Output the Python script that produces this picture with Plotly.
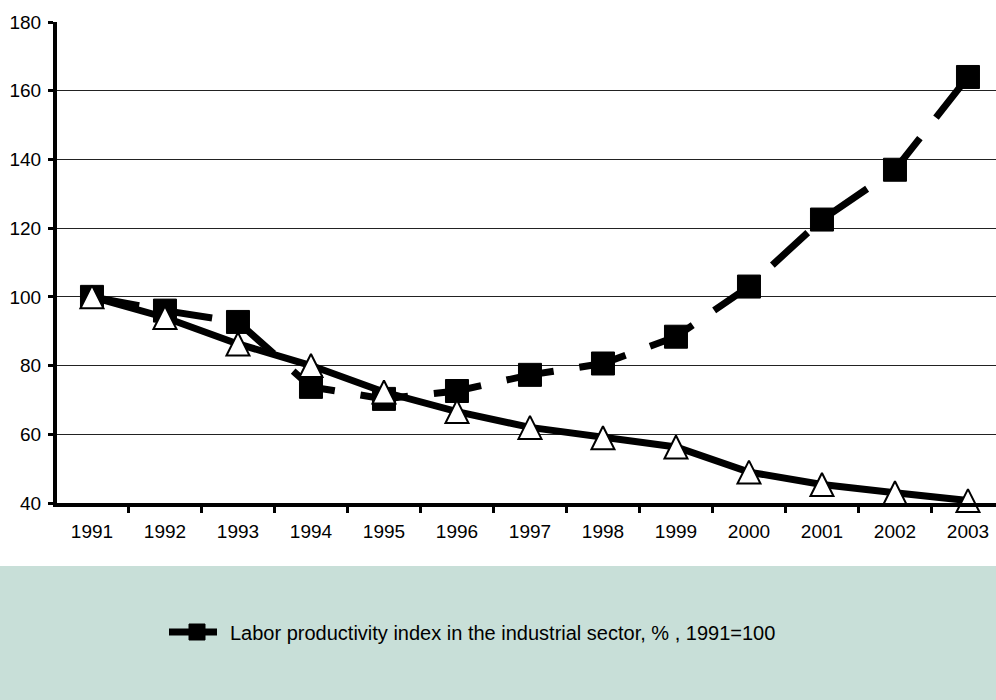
import plotly.graph_objects as go

# Years on the category axis
years = ["1991", "1992", "1993", "1994", "1995", "1996", "1997",
         "1998", "1999", "2000", "2001", "2002", "2003"]

# Labor productivity index in the industrial sector (1991 = 100)
productivity = [100, 96, 92.7, 73.8, 70.3, 72.6, 77.3, 80.6, 88.4, 103.0, 122.5, 137.0, 164.0]

# Second index plotted alongside (not listed in the legend)
second_index = [100, 94, 86.3, 80, 72.3, 66.6, 62.0, 59.0, 56.3, 49.0, 45.4, 43.0, 40.7]

y_ticks = [40, 60, 80, 100, 120, 140, 160, 180]

FONT = "Liberation Sans, Arial, sans-serif"
PLOT_L, PLOT_T, PLOT_B = 57, 22, 197
W, H = 996, 700
plot_w = W - PLOT_L
plot_h = H - PLOT_T - PLOT_B

TRI = 23  # triangle marker size (px)

fig = go.Figure()

fig.add_trace(go.Scatter(
    x=years, y=productivity,
    name="Labor productivity index in the industrial sector, % , 1991=100",
    mode="lines+markers",
    line=dict(color="black", width=7, dash="48px,26px"),
    marker=dict(symbol="square", size=23, color="black",
                line=dict(color="black", width=1)),
    cliponaxis=False,
))

# Upward triangle, centred on the point: a flipped arrow shifted up by half its height
fig.add_trace(go.Scatter(
    x=years, y=second_index,
    name="Series 2",
    mode="lines+markers",
    line=dict(color="black", width=7, backoff=0),
    marker=dict(symbol="arrow-down", angle=180, standoff=TRI / 2, size=TRI,
                color="white", line=dict(color="black", width=2)),
    showlegend=False,
    cliponaxis=False,
))

# Legend band along the bottom of the figure
band_top = (H - PLOT_B - 566) / plot_h
band_bot = (H - PLOT_B - H) / plot_h
fig.add_shape(type="rect", xref="paper", yref="paper",
              x0=-PLOT_L / plot_w, x1=1.0, y0=band_bot, y1=band_top,
              fillcolor="#C8DFD8", line=dict(width=0), layer="below")

legend_y = (H - PLOT_B - 632) / plot_h
legend_x = (164 - PLOT_L) / plot_w

fig.update_layout(
    width=W, height=H,
    margin=dict(l=PLOT_L, r=0, t=PLOT_T, b=PLOT_B),
    paper_bgcolor="white",
    plot_bgcolor="white",
    font=dict(family=FONT, size=19, color="black"),
    showlegend=True,
    legend=dict(
        x=legend_x, y=legend_y, xanchor="left", yanchor="middle",
        bgcolor="rgba(0,0,0,0)", borderwidth=0,
        font=dict(family=FONT, size=20, color="black"),
        itemwidth=56,
    ),
)

fig.update_xaxes(
    type="category",
    range=[-0.479, 12.384],
    showgrid=False,
    showline=True, linecolor="black", linewidth=4,
    ticks="outside", tickson="boundaries", ticklen=6, tickwidth=3, tickcolor="black",
    tickfont=dict(family=FONT, size=19, color="black"),
    ticklabelstandoff=8,
    zeroline=False,
)

fig.update_yaxes(
    range=[40, 180],
    tickvals=y_ticks,
    ticktext=[str(v) for v in y_ticks],
    showgrid=True, gridcolor="#222222", gridwidth=1,
    showline=True, linecolor="black", linewidth=4,
    ticks="outside", ticklen=5, tickwidth=3, tickcolor="black",
    tickfont=dict(family=FONT, size=19, color="black"),
    ticklabelstandoff=3,
    zeroline=False,
)

fig.write_html("out.html")
